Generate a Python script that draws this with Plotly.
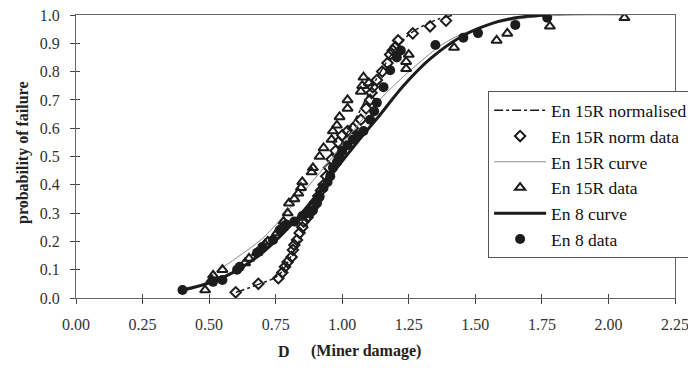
import plotly.graph_objects as go

# ---- data ----
norm_curve_x = [0.60, 0.69, 0.76, 0.82, 0.88, 0.94, 1.00, 1.06, 1.12, 1.20, 1.25, 1.30, 1.36, 1.42]
norm_curve_y = [0.02, 0.05, 0.08, 0.17, 0.28, 0.42, 0.55, 0.65, 0.76, 0.88, 0.93, 0.96, 0.985, 1.0]

norm_data_x = [0.60, 0.685, 0.76, 0.775, 0.785, 0.795, 0.81, 0.815, 0.82, 0.83, 0.84, 0.85, 0.855, 0.87,
               0.88, 0.89, 0.90, 0.91, 0.92, 0.93, 0.94, 0.95, 0.96, 0.975, 0.985, 1.00, 1.02, 1.04,
               1.07, 1.09, 1.105, 1.11, 1.115, 1.13, 1.15, 1.17, 1.18, 1.19, 1.20, 1.21, 1.265, 1.33, 1.39]
norm_data_y = [0.02, 0.05, 0.07, 0.09, 0.11, 0.127, 0.145, 0.17, 0.187, 0.205, 0.23, 0.25, 0.27, 0.285,
               0.30, 0.32, 0.34, 0.36, 0.38, 0.40, 0.43, 0.46, 0.49, 0.52, 0.55, 0.575, 0.59, 0.60,
               0.63, 0.67, 0.70, 0.725, 0.745, 0.77, 0.80, 0.83, 0.86, 0.875, 0.887, 0.91, 0.935, 0.96, 0.98]

r15_curve_x = [0.48, 0.51, 0.60, 0.70, 0.77, 0.85, 0.94, 1.04, 1.15, 1.30, 1.40, 1.55, 1.75, 2.07]
r15_curve_y = [0.05, 0.08, 0.14, 0.21, 0.28, 0.37, 0.47, 0.59, 0.71, 0.84, 0.91, 0.965, 0.995, 1.0]

r15_data_x = [0.485, 0.51, 0.515, 0.55, 0.635, 0.65, 0.68, 0.71, 0.72, 0.755, 0.775, 0.78, 0.795, 0.80,
              0.82, 0.835, 0.845, 0.85, 0.885, 0.89, 0.915, 0.93, 0.96, 0.965, 0.98, 0.99, 1.02, 1.02,
              1.07, 1.075, 1.08, 1.10, 1.24, 1.24, 1.25, 1.42, 1.58, 1.62, 1.78, 2.06]
r15_data_y = [0.028, 0.064, 0.08, 0.10, 0.124, 0.14, 0.16, 0.19, 0.20, 0.23, 0.25, 0.27, 0.30, 0.335,
              0.35, 0.37, 0.39, 0.41, 0.445, 0.46, 0.50, 0.53, 0.56, 0.59, 0.61, 0.64, 0.67, 0.70,
              0.73, 0.75, 0.78, 0.76, 0.81, 0.835, 0.86, 0.885, 0.91, 0.935, 0.96, 0.99]

en8_curve_x = [0.40, 0.50, 0.60, 0.70, 0.80, 0.90, 0.98, 1.06, 1.14, 1.23, 1.33, 1.45, 1.555, 1.65, 1.76]
en8_curve_y = [0.028, 0.053, 0.095, 0.16, 0.25, 0.36, 0.46, 0.555, 0.645, 0.75, 0.845, 0.925, 0.968, 0.99, 1.0]

en8_data_x = [0.40, 0.515, 0.55, 0.605, 0.615, 0.68, 0.70, 0.74, 0.765, 0.79, 0.82, 0.85, 0.87, 0.89,
              0.905, 0.915, 0.93, 0.945, 0.955, 0.965, 0.98, 0.99, 1.00, 1.02, 1.04, 1.06, 1.08, 1.105,
              1.12, 1.13, 1.155, 1.18, 1.205, 1.22, 1.35, 1.455, 1.51, 1.65, 1.77]
en8_data_y = [0.028, 0.057, 0.064, 0.10, 0.11, 0.16, 0.18, 0.205, 0.24, 0.26, 0.27, 0.29, 0.30, 0.31,
              0.335, 0.357, 0.39, 0.41, 0.43, 0.46, 0.48, 0.50, 0.52, 0.54, 0.56, 0.575, 0.59, 0.63,
              0.66, 0.69, 0.745, 0.805, 0.85, 0.875, 0.894, 0.92, 0.936, 0.965, 0.99]

x_ticks = [0.00, 0.25, 0.50, 0.75, 1.00, 1.25, 1.50, 1.75, 2.00, 2.25]
y_ticks = [0.0, 0.1, 0.2, 0.3, 0.4, 0.5, 0.6, 0.7, 0.8, 0.9, 1.0]
x_range = [0, 2.25]
y_range = [0, 1]

INK = "#1c1c1c"
FONT = "Liberation Serif, Times New Roman, DejaVu Serif, serif"

fig = go.Figure()
fig.add_trace(go.Scatter(x=norm_curve_x, y=norm_curve_y, mode="lines", name="En 15R normalised",
                         line=dict(color=INK, width=1.5, dash="dashdot", shape="spline")))
fig.add_trace(go.Scatter(x=norm_data_x, y=norm_data_y, mode="markers", name="En 15R norm data",
                         marker=dict(symbol="diamond-open", size=8, color=INK, line=dict(width=2, color=INK))))
fig.add_trace(go.Scatter(x=r15_curve_x, y=r15_curve_y, mode="lines", name="En 15R curve",
                         line=dict(color="#8a8a8a", width=1, shape="spline")))
fig.add_trace(go.Scatter(x=r15_data_x, y=r15_data_y, mode="markers", name="En 15R data",
                         marker=dict(symbol="triangle-up-open", size=9, color=INK, line=dict(width=2, color=INK))))
fig.add_trace(go.Scatter(x=en8_curve_x, y=en8_curve_y, mode="lines", name="En 8 curve",
                         line=dict(color=INK, width=3, shape="spline")))
fig.add_trace(go.Scatter(x=en8_data_x, y=en8_data_y, mode="markers", name="En 8 data",
                         marker=dict(symbol="circle", size=10, color=INK)))
# empty helper trace so that the overlay axes (inner half of the crossing ticks) are drawn
fig.add_trace(go.Scatter(x=[None], y=[None], xaxis="x2", yaxis="y2", showlegend=False,
                         hoverinfo="skip", mode="markers"))

axis_common = dict(showgrid=False, zeroline=False, showline=True, linecolor="#666", linewidth=1,
                   mirror=True, ticks="outside", ticklen=5, tickcolor="#444", automargin=False,
                   ticklabeloverflow="allow",
                   ticklabelstandoff=7, tickfont=dict(family=FONT, size=16, color="#333"))
inner_ticks = dict(showgrid=False, zeroline=False, showline=False, showticklabels=False,
                   ticks="inside", ticklen=4, tickcolor="#444", automargin=False)

# The page body has an 8px default margin; the figure is sized so that it fills the window exactly.
# Plot area in window pixels: x 76..675, y 15..298.
fig.update_layout(
    width=688, height=360,
    margin=dict(l=68, r=21, t=7, b=70, autoexpand=False),
    paper_bgcolor="white", plot_bgcolor="white",
    font=dict(family=FONT, size=15, color="#222"),
    showlegend=True,
    legend=dict(x=0.688, y=0.73, xanchor="left", yanchor="top",
                bgcolor="white", bordercolor="#555", borderwidth=1,
                font=dict(family=FONT, size=17.5, color="#111"),
                itemwidth=52, tracegroupgap=0),
    xaxis=dict(range=x_range, tickvals=x_ticks, tickformat=".2f", **axis_common),
    yaxis=dict(range=y_range, tickvals=y_ticks, tickformat=".1f", **axis_common),
    xaxis2=dict(range=x_range, tickvals=x_ticks, overlaying="x", anchor="y2", side="bottom", **inner_ticks),
    yaxis2=dict(range=y_range, tickvals=y_ticks, overlaying="y", anchor="x2", side="left", **inner_ticks),
)

pw, ph = 599, 283
def px(xp):
    return (xp - 76) / pw
def py(yp):
    return (298 - yp) / ph

fig.add_annotation(text="<b>probability of failure</b>", x=px(23), y=py(153), xref="paper", yref="paper",
                   xanchor="center", yanchor="middle",
                   showarrow=False, textangle=-90, font=dict(family=FONT, size=16, color="#222"))
fig.add_annotation(text="<b>D</b>", x=px(284), y=py(351), xref="paper", yref="paper",
                   xanchor="center", yanchor="middle",
                   showarrow=False, font=dict(family=FONT, size=16, color="#222"))
fig.add_annotation(text="<b>(Miner damage)</b>", x=px(366), y=py(351), xref="paper", yref="paper",
                   xanchor="center", yanchor="middle",
                   showarrow=False, font=dict(family=FONT, size=16, color="#222"))

fig.write_html("out.html")
